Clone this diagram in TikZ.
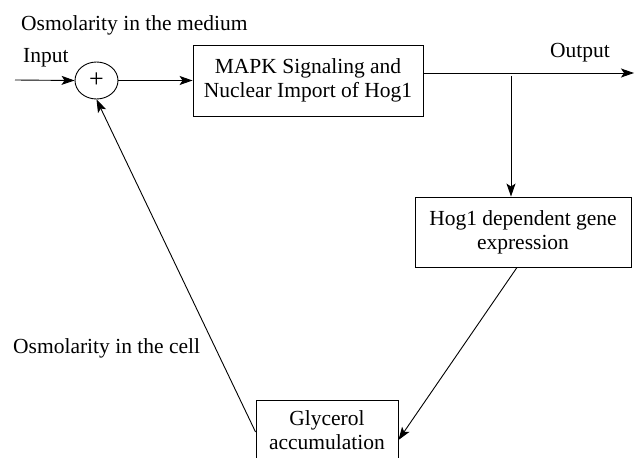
\documentclass[tikz,border=0pt]{standalone}
\usepackage{fontspec}
\setmainfont{Liberation Serif}
\usetikzlibrary{positioning, shapes.geometric, arrows.meta}

\begin{document}
\begin{tikzpicture}[x=1pt, y=-1pt, font=\fontsize{21.5}{24}\selectfont,
  e/.style={draw, align=center, inner sep=0pt, line width=0.9pt},
  arr/.style={-{Stealth[length=13pt, width=9pt, inset=3pt]}, line width=0.9pt},
  lbl/.style={anchor=base west, inner sep=0pt}
]
  \useasboundingbox (0,0) rectangle (636,457);

  \node[e, ellipse, minimum width=43pt, minimum height=37pt, font=\fontsize{26}{26}\selectfont] (sum) at (96.5,80.5) {+};
  \node[e, minimum width=230pt, minimum height=71pt] (mapk) at (308,80.5) {MAPK Signaling and\\Nuclear Import of Hog1};
  \node[e, minimum width=216pt, minimum height=70pt] (gene) at (523,232) {Hog1 dependent gene\\expression};
  \node[e, minimum width=142pt, minimum height=60pt] (glyc) at (327,430) {Glycerol\\accumulation};

  \coordinate (in) at (15,80);
  \coordinate (out) at (634,73);
  \coordinate (tap) at (511,76);

  \node[lbl] (medium) at (21,31) {Osmolarity in the medium};
  \node[lbl] (input) at (23,63) {Input};
  \node[lbl] (output) at (550,58) {Output};
  \node[lbl] (cell) at (13,353) {Osmolarity in the cell};

  \draw[arr] (in) -- (sum.west);
  \draw[arr] (sum.east) -- (mapk.west);
  \draw[arr] (mapk.east |- out) -- (out);
  \draw[arr] (tap) -- (tap |- gene.north);
  \draw[arr] (gene.south) ++(-6,0) -- ([yshift=-10pt]glyc.east);
  \draw[arr] ([yshift=-2pt]glyc.west) -- (sum.south);
\end{tikzpicture}
\end{document}
